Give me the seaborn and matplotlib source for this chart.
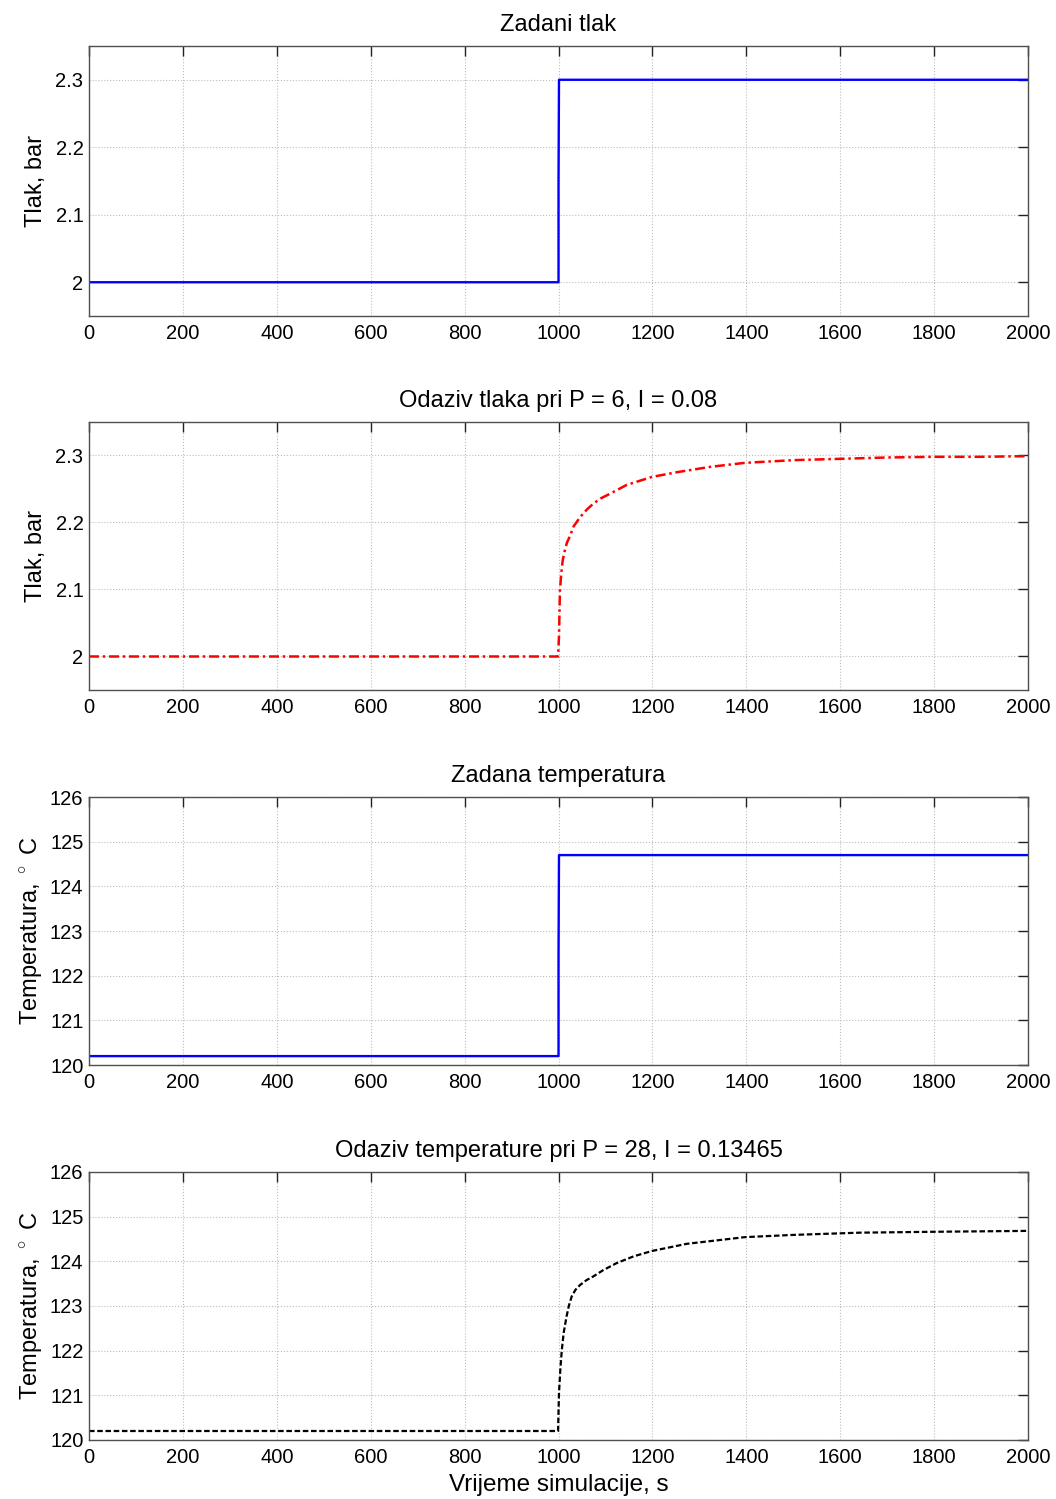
import numpy as np
import pandas as pd
import seaborn as sns
import matplotlib.pyplot as plt

# setpoint pressure (bar)
t_set = [0, 1000, 1000, 1001, 2000]
p_set = [2.0, 2.0, 2.15, 2.3, 2.3]

# pressure response at P = 6, I = 0.08
t_p = [0, 999, 1001, 1003, 1006, 1009, 1014, 1018, 1024, 1032, 1046, 1060, 1074,
       1090, 1110, 1145, 1199, 1252, 1323, 1397, 1500, 1600, 1700, 1800, 1900, 2000]
p_resp = [2.0, 2.0, 2.03, 2.098, 2.125, 2.144, 2.160, 2.170, 2.179, 2.194, 2.208,
          2.219, 2.228, 2.236, 2.243, 2.256, 2.268, 2.275, 2.283, 2.289, 2.293,
          2.295, 2.297, 2.298, 2.298, 2.299]

# setpoint temperature (C)
temp_set = [120.2, 120.2, 122.45, 124.7, 124.7]

# temperature response at P = 28, I = 0.13465
t_t = [0, 999, 1001, 1004, 1007, 1011, 1017, 1022, 1028, 1036, 1046, 1060, 1074,
       1095, 1124, 1160, 1199, 1273, 1397, 1500, 1642, 1800, 1900, 2000]
temp_resp = [120.2, 120.2, 121.05, 121.6, 122.01, 122.4, 122.76, 123.0, 123.21,
             123.36, 123.47, 123.58, 123.66, 123.80, 123.96, 124.11, 124.23,
             124.39, 124.54, 124.59, 124.64, 124.66, 124.67, 124.68]

sns.set_style('white')
plt.rcParams['font.family'] = ['Liberation Sans', 'DejaVu Sans']
plt.rcParams['mathtext.fontset'] = 'custom'
plt.rcParams['mathtext.rm'] = 'Liberation Sans'
plt.rcParams['text.color'] = 'black'
plt.rcParams['axes.labelcolor'] = 'black'
plt.rcParams['xtick.color'] = 'black'
plt.rcParams['ytick.color'] = 'black'
FS = 14.5

fig = plt.figure(figsize=(10.56, 14.99), dpi=100)
rects = [[0.0843, 0.7892, 0.8892, 0.1801],
         [0.0843, 0.5397, 0.8892, 0.1788],
         [0.0843, 0.2895, 0.8892, 0.1788],
         [0.0843, 0.0394, 0.8892, 0.1788]]
axes = [fig.add_axes(r) for r in rects]

sns.lineplot(x=t_set, y=p_set, ax=axes[0], color='#0000ff', lw=1.7, sort=False, estimator=None)
sns.lineplot(x=t_p, y=p_resp, ax=axes[1], color='#ff0000', lw=1.8, sort=False, estimator=None,
             linestyle=(0, (4, 1.5, 1, 1.5)))
sns.lineplot(x=t_set, y=temp_set, ax=axes[2], color='#0000ff', lw=1.7, sort=False, estimator=None)
sns.lineplot(x=t_t, y=temp_resp, ax=axes[3], color='black', lw=1.6, sort=False, estimator=None,
             linestyle=(0, (2.5, 1.2)))

titles = ['Zadani tlak', 'Odaziv tlaka pri P = 6, I = 0.08',
          'Zadana temperatura', 'Odaziv temperature pri P = 28, I = 0.13465']
ylabels = ['Tlak, bar', 'Tlak, bar', 'Temperatura, $^\\circ$ C', 'Temperatura, $^\\circ$ C']

for i, ax in enumerate(axes):
    ax.set_xlim(0, 2000)
    ax.set_xticks(np.arange(0, 2001, 200))
    if i < 2:
        ax.set_ylim(1.95, 2.35)
        ax.set_yticks([2, 2.1, 2.2, 2.3])
        ax.set_yticklabels(['2', '2.1', '2.2', '2.3'])
    else:
        ax.set_ylim(120, 126)
        ax.set_yticks(np.arange(120, 127, 1))
    ax.grid(True, linestyle=':', color='#bdbdbd', linewidth=0.8)
    ax.tick_params(direction='in', length=7, width=1, color='#222222',
                   top=True, right=True, labelsize=FS, pad=6)
    ax.tick_params(axis='y', pad=4)
    for s in ax.spines.values():
        s.set_color('#505050')
        s.set_linewidth(1)
    ax.set_title(titles[i], fontsize=17, pad=11)
    ax.set_ylabel(ylabels[i], fontsize=17, labelpad=6 if i < 2 else 3)
    ax.set_xlabel('')

axes[3].set_xlabel('Vrijeme simulacije, s', fontsize=17.5, labelpad=5)

plt.savefig('out.png', dpi=100)
plt.close()
